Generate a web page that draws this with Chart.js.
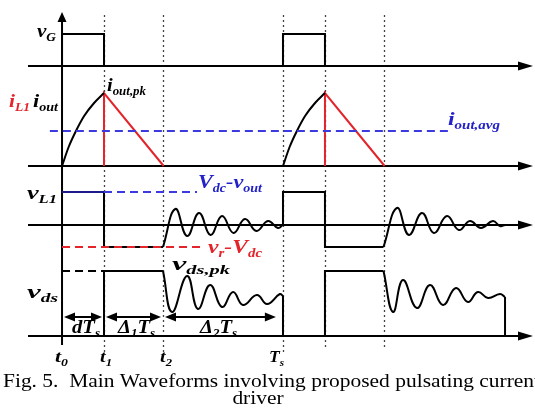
<!doctype html>
<html>
<head>
<title>Main Waveforms</title>
<script src="https://cdn.jsdelivr.net/npm/chart.js@4.4.0/dist/chart.umd.min.js"></script>
<style>
body { margin: 0; background: #fff; }
canvas { display: block; }
</style>
</head>
<body>
<canvas id="wave" width="535" height="411"></canvas>
<script>
var tickTimes = [0, 0.19, 0.457, 1];
var tickLabels = [['t', '0'], ['t', '1'], ['t', '2'], ['T', 's']];
var guideTimes = [0.19, 0.457, 1, 1.19, 1.457];
var spanTimes = [[0, 0.19], [0.19, 0.457], [0.457, 0.977]];

var vgT = [0, 0, 0.19, 0.19];
var vgV = [0, 32, 32, 0];

var ioutRiseT = [0, 0.03, 0.063, 0.1, 0.145, 0.19];
var ioutRiseV = [0, 19, 35, 50, 63, 73];
var iL1FallT = [0.19, 0.19, 0.46];
var iL1FallV = [0, 73, 0];
var ioutAvg = 35;

var vL1SqT1 = [0, 0.19, 0.19, 0.457];
var vL1SqV1 = [33, 33, -22, -22];
var vL1RingT1 = [0.457, 0.513, 0.566, 0.620, 0.672, 0.724, 0.776, 0.828, 0.880, 0.932, 0.977, 1.0];
var vL1RingV1 = [-22, 16, -11, 12, -10, 9, -8, 6, -6, 4, -3, 0];
var vL1SqT2 = [1, 1, 1.19, 1.19, 1.455];
var vL1SqV2 = [0, 33, 33, -22, -22];
var vL1RingT2 = [1.455, 1.516, 1.570, 1.629, 1.683, 1.742, 1.796, 1.846, 1.896, 1.950, 1.982, 2.005];
var vL1RingV2 = [-22, 17, -10, 12, -8, 9, -5, 4, -3, 4, -1, 0];
var vL1High = 33, vL1Low = -22;

var vdsSqT1 = [0.19, 0.19, 0.457];
var vdsSqV1 = [0, 65, 65];
var vdsRingT1 = [0.457, 0.498, 0.566, 0.615, 0.670, 0.724, 0.774, 0.819, 0.882, 0.928, 0.986, 1.0];
var vdsRingV1 = [65, 24, 60, 27, 51, 29, 44, 31, 41, 32, 42, 40];
var vdsSqT2 = [1, 1, 1.19, 1.19, 1.455];
var vdsSqV2 = [40, 0, 0, 65, 65];
var vdsRingT2 = [1.455, 1.498, 1.543, 1.606, 1.665, 1.724, 1.783, 1.837, 1.882, 1.928, 1.982, 2.005];
var vdsRingV2 = [65, 24, 56, 28, 51, 31, 48, 34, 44, 38, 42, 39];
var vdsEndT = [2.005, 2.005];
var vdsEndV = [39, 0];
var vdsPk = 65;

// layout
var base = { vG: 286, iout: 186, vL1: 127, vds: 16 };
var RED = '#e3242b', BLUE = '#3a3ae0', LBLUE = '#2222c8';
var serif = '"Liberation Serif", "Times New Roman", serif';

function pts(ts, vs, b, shift) {
  return ts.map(function (t, i) { return { x: t + (shift || 0), y: b + vs[i] }; });
}
function line(data, color, extra) {
  var d = { data: data, borderColor: color, borderWidth: 2, pointRadius: 0, fill: false, tension: 0, order: 2 };
  for (var k in extra) d[k] = extra[k];
  return d;
}
var smooth = { cubicInterpolationMode: 'monotone' };
var wavy = { tension: 0.45 };

var datasets = [
  line(pts(vgT, vgV, base.vG, 0), '#000'),
  line(pts(vgT, vgV, base.vG, 1), '#000'),
  line(pts(ioutRiseT, ioutRiseV, base.iout, 0), '#000', smooth),
  line(pts(ioutRiseT, ioutRiseV, base.iout, 1), '#000', smooth),
  line(pts(iL1FallT, iL1FallV, base.iout, 0), RED),
  line(pts(iL1FallT, iL1FallV, base.iout, 1), RED),
  line(pts([-0.055, 1.765], [ioutAvg, ioutAvg], base.iout), BLUE, { borderDash: [8, 5], order: 1 }),
  line(pts(vL1SqT1, vL1SqV1, base.vL1), '#000'),
  line(pts(vL1RingT1, vL1RingV1, base.vL1), '#000', wavy),
  line(pts(vL1SqT2, vL1SqV2, base.vL1), '#000'),
  line(pts(vL1RingT2, vL1RingV2, base.vL1), '#000', wavy),
  line(pts([0.19, 0.611], [vL1High, vL1High], base.vL1), BLUE, { borderDash: [8, 5], order: 1 }),
  line(pts([0, 0.19], [vL1High, vL1High], base.vL1), '#1a1a8a', { order: 1 }),
  line(pts([0, 0.647], [vL1Low, vL1Low], base.vL1), RED, { borderDash: [8, 5], order: 0 }),
  line(pts(vdsSqT1, vdsSqV1, base.vds), '#000'),
  line(pts(vdsRingT1, vdsRingV1, base.vds), '#000', wavy),
  line(pts(vdsSqT2, vdsSqV2, base.vds), '#000'),
  line(pts(vdsRingT2, vdsRingV2, base.vds), '#000', wavy),
  line(pts(vdsEndT, vdsEndV, base.vds), '#000'),
  line(pts([0, 0.19], [vdsPk, vdsPk], base.vds), '#000', { borderDash: [8, 5] })
];

// text labels: parts [text, isSub], left x, baseline y, fitted width
var labels = [
  { p: [['v', 0], ['G', 1]], x: 37, y: 37, w: 19, c: '#000' },
  { p: [['i', 0], ['L1', 1]], x: 9, y: 107, w: 21, c: RED },
  { p: [['i', 0], ['out', 1]], x: 33, y: 107, w: 25, c: '#000' },
  { p: [['i', 0], ['out,pk', 1]], x: 107, y: 91, w: 39, c: '#000' },
  { p: [['i', 0], ['out,avg', 1]], x: 448, y: 125, w: 52, c: LBLUE },
  { p: [['v', 0], ['L1', 1]], x: 27, y: 199, w: 30, c: '#000' },
  { p: [['V', 0], ['dc', 1], ['-v', 0], ['out', 1]], x: 198, y: 188, w: 64, c: LBLUE },
  { p: [['v', 0], ['r', 1], ['-V', 0], ['dc', 1]], x: 208, y: 253, w: 54, c: RED },
  { p: [['v', 0], ['ds,pk', 1]], x: 172, y: 270, w: 58, c: '#000' },
  { p: [['v', 0], ['ds', 1]], x: 27, y: 298, w: 31, c: '#000' },
  { p: [['dT', 0], ['s', 1]], x: 72, y: 333, w: 28, c: '#000' },
  { p: [['\u0394', 0], ['1', 1], ['T', 0], ['s', 1]], x: 118, y: 333, w: 37, c: '#000' },
  { p: [['\u0394', 0], ['2', 1], ['T', 0], ['s', 1]], x: 200, y: 333, w: 37, c: '#000' }
];
var tickLabelX = [55, 100, 160, 269];
var tickLabelW = [13, 12, 12, 15];

function drawRich(ctx, parts, x, y, w, color, size) {
  var big = 'bold italic ' + size + 'px ' + serif;
  var sub = 'bold italic ' + Math.round(size * 0.65) + 'px ' + serif;
  var total = 0;
  parts.forEach(function (p) { ctx.font = p[1] ? sub : big; total += ctx.measureText(p[0]).width; });
  ctx.save();
  ctx.translate(x, y);
  ctx.scale(w / total, 1);
  ctx.fillStyle = color;
  ctx.textBaseline = 'alphabetic';
  var cx = 0;
  parts.forEach(function (p) {
    ctx.font = p[1] ? sub : big;
    ctx.fillText(p[0], cx, p[1] ? size * 0.22 : 0);
    cx += ctx.measureText(p[0]).width;
  });
  ctx.restore();
}
function head(ctx, x, y, dx, dy, len, hw) {
  // filled arrow head with tip at x,y pointing along dx,dy
  ctx.beginPath();
  ctx.moveTo(x, y);
  ctx.lineTo(x - dx * len - dy * hw, y - dy * len - dx * hw);
  ctx.lineTo(x - dx * len + dy * hw, y - dy * len + dx * hw);
  ctx.closePath();
  ctx.fill();
}

var frame = {
  id: 'frame',
  beforeDraw: function (chart) {
    var ctx = chart.ctx;
    ctx.save();
    ctx.fillStyle = '#fff';
    ctx.fillRect(0, 0, chart.width, chart.height);
    ctx.restore();
  },
  beforeDatasetsDraw: function (chart) {
    var ctx = chart.ctx, xs = chart.scales.x, ys = chart.scales.y, a = chart.chartArea;
    ctx.save();
    // dotted guides
    ctx.strokeStyle = '#444';
    ctx.lineWidth = 1.3;
    ctx.setLineDash([2, 3]);
    guideTimes.forEach(function (t) {
      var px = Math.round(xs.getPixelForValue(t)) + 0.5;
      ctx.beginPath(); ctx.moveTo(px, ys.getPixelForValue(337)); ctx.lineTo(px, ys.getPixelForValue(4)); ctx.stroke();
    });
    [0.19, 0.457, 1].forEach(function (t) {
      var px = Math.round(xs.getPixelForValue(t)) + 0.5;
      ctx.beginPath(); ctx.moveTo(px, ys.getPixelForValue(2)); ctx.lineTo(px, ys.getPixelForValue(-3)); ctx.stroke();
    });
    ctx.setLineDash([]);
    // axes
    ctx.strokeStyle = '#000';
    ctx.fillStyle = '#000';
    ctx.lineWidth = 2;
    [base.vG, base.iout, base.vL1, base.vds].forEach(function (b) {
      var py = ys.getPixelForValue(b);
      ctx.beginPath(); ctx.moveTo(a.left, py); ctx.lineTo(a.right - 10, py); ctx.stroke();
      head(ctx, a.right + 3, py, 1, 0, 15, 4.5);
    });
    var x0 = xs.getPixelForValue(0);
    ctx.beginPath(); ctx.moveTo(x0, ys.getPixelForValue(7)); ctx.lineTo(x0, ys.getPixelForValue(332)); ctx.stroke();
    head(ctx, x0, ys.getPixelForValue(340), 0, -1, 10, 4.5);
    ctx.restore();
  },
  afterDatasetsDraw: function (chart) {
    var ctx = chart.ctx, xs = chart.scales.x;
    ctx.save();
    // span arrows
    ctx.strokeStyle = '#000';
    ctx.fillStyle = '#000';
    ctx.lineWidth = 2;
    var ay = 317;
    spanTimes.forEach(function (s) {
      var l = xs.getPixelForValue(s[0]) + 2, r = xs.getPixelForValue(s[1]) - 2;
      ctx.beginPath(); ctx.moveTo(l + 6, ay); ctx.lineTo(r - 6, ay); ctx.stroke();
      head(ctx, l, ay, -1, 0, 11, 4.5);
      head(ctx, r, ay, 1, 0, 11, 4.5);
    });
    labels.forEach(function (L) { drawRich(ctx, L.p, L.x, L.y, L.w, L.c, 19); });
    tickLabels.forEach(function (p, i) {
      drawRich(ctx, [[p[0], 0], [p[1], 1]], tickLabelX[i], 362, tickLabelW[i], '#000', 16);
    });
    // caption
    ctx.fillStyle = '#000';
    ctx.font = '19px ' + serif;
    var cap = 'Fig. 5.  Main Waveforms involving proposed pulsating current';
    var sx = 537 / ctx.measureText(cap).width;
    ctx.save(); ctx.translate(3, 387); ctx.scale(sx, 1); ctx.fillText(cap, 0, 0); ctx.restore();
    var dw = ctx.measureText('driver').width;
    ctx.save(); ctx.translate(258 - dw * sx / 2, 404); ctx.scale(sx, 1); ctx.fillText('driver', 0, 0); ctx.restore();
    ctx.restore();
  }
};

new Chart(document.getElementById('wave'), {
  type: 'line',
  data: { datasets: datasets },
  options: {
    responsive: false,
    animation: false,
    layout: { padding: { left: 28, right: 5, top: 12, bottom: 59 } },
    scales: {
      x: { type: 'linear', min: -0.154, max: 2.118, display: false },
      y: { type: 'linear', min: 0, max: 340, display: false }
    },
    plugins: { legend: { display: false }, tooltip: { enabled: false } }
  },
  plugins: [frame]
});
</script>
</body>
</html>
